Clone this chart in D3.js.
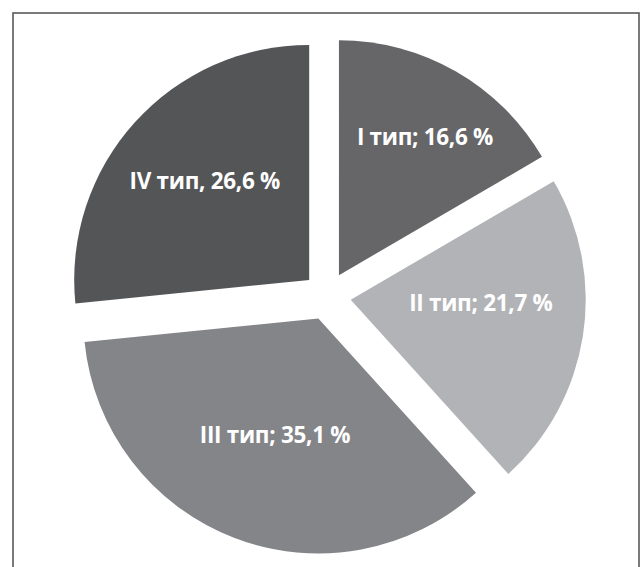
<!DOCTYPE html>
<html>
<head>
<meta charset="utf-8">
<script src="https://cdn.jsdelivr.net/npm/d3@7"></script>
<style>
  html, body { margin: 0; padding: 0; background: #ffffff; }
  svg { display: block; }
</style>
</head>
<body>
<script>
// ---- data ----
const categories = ["I тип", "II тип", "III тип", "IV тип"];
const values = [16.6, 21.7, 35.1, 26.6];
const labels = ["I тип; 16,6 %", "II тип; 21,7 %", "III тип; 35,1 %", "IV тип, 26,6 %"];
const colors = ["#666668", "#b2b3b6", "#848589", "#545557"];

// ---- layout (styling, not data) ----
const W = 642, H = 567;
const cx = 327, cy = 296;
const radius = 235;
const explode = 24;
// label placement: radius from pie centre and small angular nudge (degrees)
const labelRadius = [187, 154, 148, 168];
const labelNudge = [1.7, -6.2, -0.5, 1.2];

const svg = d3.select("body").append("svg")
  .attr("width", W).attr("height", H);

// frame
svg.append("rect")
  .attr("x", 13).attr("y", 13)
  .attr("width", 626).attr("height", 620)
  .attr("fill", "none")
  .attr("stroke", "#5a5a5a")
  .attr("stroke-width", 1.6);

const pie = d3.pie().sort(null).value(d => d)(values);
const arc = d3.arc().innerRadius(0).outerRadius(radius);

const g = svg.append("g").attr("transform", `translate(${cx},${cy})`);

g.selectAll("path.slice")
  .data(pie)
  .join("path")
  .attr("class", "slice")
  .attr("d", arc)
  .attr("fill", (d, i) => colors[i])
  .attr("transform", d => {
    const mid = (d.startAngle + d.endAngle) / 2;
    const [x, y] = d3.pointRadial(mid, explode);
    return `translate(${x},${y})`;
  });

g.selectAll("text.lbl")
  .data(pie)
  .join("text")
  .attr("class", "lbl")
  .attr("transform", (d, i) => {
    const mid = (d.startAngle + d.endAngle) / 2 + labelNudge[i] * Math.PI / 180;
    const [x, y] = d3.pointRadial(mid, labelRadius[i]);
    return `translate(${x},${y})`;
  })
  .attr("text-anchor", "middle")
  .attr("dy", "0.36em")
  .attr("fill", "#ffffff")
  .style("font-family", "'Open Sans', 'DejaVu Sans', sans-serif")
  .style("font-weight", "700")
  .style("font-size", "22.5px")
  .style("letter-spacing", "-0.3px")
  .text((d, i) => labels[i]);
</script>
</body>
</html>
